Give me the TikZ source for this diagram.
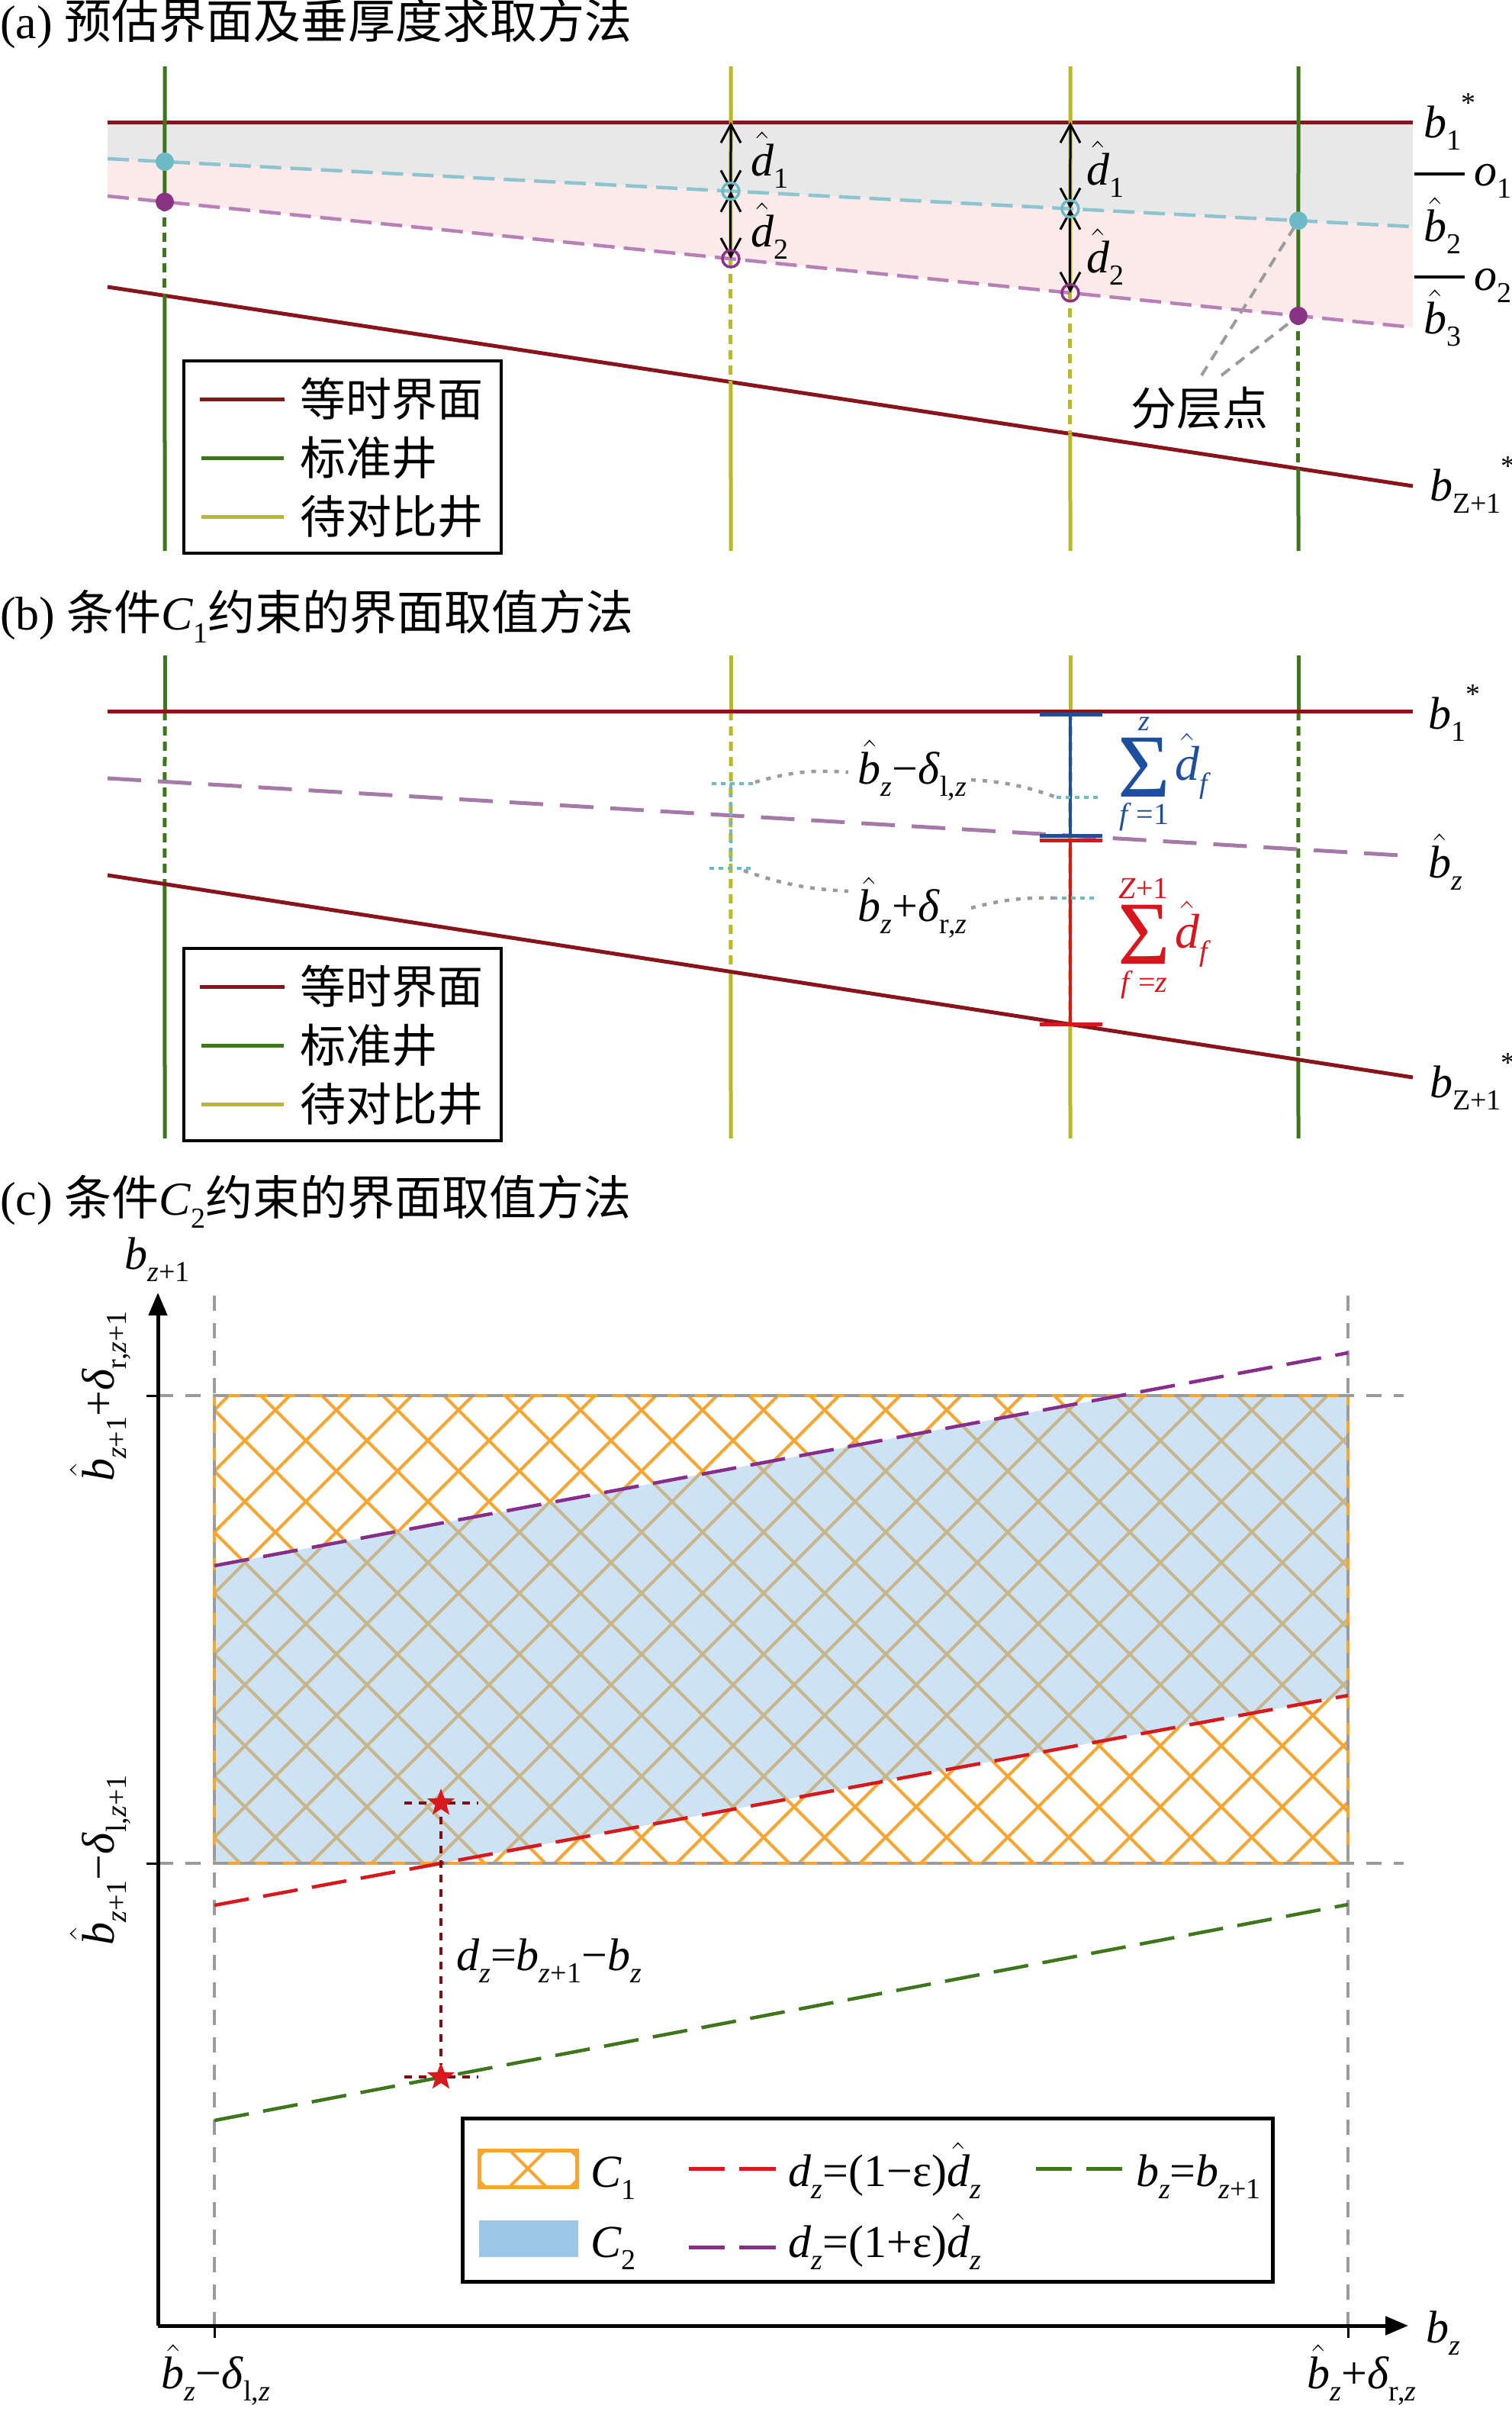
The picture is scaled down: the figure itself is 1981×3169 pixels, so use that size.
\RequirePackage{fix-cm}
\documentclass[tikz,border=0pt]{standalone}
\usepackage{amsmath}
\usepackage{fontspec}
\setmainfont{Liberation Serif}
\newfontfamily\cjk{Noto Sans CJK SC}
\usetikzlibrary{arrows.meta,shapes.geometric}
\definecolor{bred}{RGB}{138,20,28}
\definecolor{wgreen}{RGB}{62,118,28}
\definecolor{wyel}{RGB}{185,185,40}
\definecolor{cyanln}{RGB}{140,196,208}
\definecolor{cyandotc}{RGB}{108,186,198}
\definecolor{purln}{RGB}{183,128,182}
\definecolor{purdotc}{RGB}{138,50,132}
\definecolor{bandgrey}{RGB}{232,232,232}
\definecolor{bandpink}{RGB}{252,233,233}
\definecolor{ptgrey}{RGB}{155,155,155}
\definecolor{sumblue}{RGB}{30,78,158}
\definecolor{sumred}{RGB}{215,22,30}
\definecolor{hatchor}{RGB}{245,165,50}
\definecolor{ctwoblue}{RGB}{155,198,230}
\definecolor{pline}{RGB}{135,45,140}
\definecolor{rline}{RGB}{215,25,30}
\definecolor{gline}{RGB}{62,118,28}
\definecolor{dkred}{RGB}{125,15,20}
\definecolor{bzpur}{RGB}{166,122,168}
\newcommand\sbs[1]{\raisebox{-0.27em}{\fontsize{38}{38}\selectfont #1}}
\newcommand\sps[1]{\raisebox{0.55em}{\fontsize{38}{38}\selectfont #1}}
\newcommand\hatit[1]{\ensuremath{\hat{\text{\itshape #1}}}}
\tikzset{
 lbl/.style={font=\fontsize{60}{72}\selectfont, inner sep=0pt},
 sumsym/.style={font=\fontsize{118}{118}\selectfont, inner sep=0pt, anchor=base},
 sumlim/.style={font=\fontsize{40}{40}\selectfont, inner sep=0pt, anchor=base},
 horline/.style={bred, line width=5pt},
 gwell/.style={wgreen, line width=5pt},
 ywell/.style={wyel, line width=5pt},
 vdash/.style={dash pattern=on 12pt off 8pt},
 cyandash/.style={cyanln, line width=4.5pt, dash pattern=on 28pt off 12pt},
 purdash/.style={purln, line width=4.5pt, dash pattern=on 28pt off 12pt},
 dimarrow/.style={black, line width=3pt, {Straight Barb[length=24pt,width=26pt]}-{Straight Barb[length=24pt,width=26pt]}},
 legbox/.style={black, line width=4.5pt},
 greydash/.style={ptgrey, line width=4pt, dash pattern=on 14pt off 10pt},
 greydot/.style={ptgrey, line width=4.5pt, dash pattern=on 6pt off 9pt},
 cyantick/.style={cyandotc, line width=4pt, dash pattern=on 6pt off 6pt},
 axisgrey/.style={ptgrey, line width=4pt, dash pattern=on 20pt off 16pt},
 hatchline/.style={hatchor, line width=4pt},
 longdash/.style={line width=4.5pt, dash pattern=on 46pt off 19pt},
 starcon/.style={dkred, line width=4pt, dash pattern=on 10pt off 9pt},
 starmark/.style={star, star points=5, star point ratio=2.4, fill=rline, draw=none, minimum size=38pt, inner sep=0pt},
 axisline/.style={black, line width=5pt, -{Triangle[length=30pt,width=24pt]}},
}
\begin{document}
\begin{tikzpicture}[x=1pt,y=-1pt]
\useasboundingbox (0,0) rectangle (1981,3169);

% ================= panel (a) =================
\node[lbl, anchor=west, font=\fontsize{62}{72}\selectfont] (ta) at (0,31) {(a) {\cjk 预估界面及垂厚度求取方法}};
\coordinate (a1L) at (141,160); \coordinate (a1R) at (1852,160);
\coordinate (a2L) at (141,208); \coordinate (a2R) at (1852,297);
\coordinate (a3L) at (141,257); \coordinate (a3R) at (1852,429);
\coordinate (aZL) at (141,376); \coordinate (aZR) at (1852,637);
\fill[bandgrey] (a1L) -- (a1R) -- (a2R) -- (a2L) -- cycle;
\fill[bandpink] (a2L) -- (a2R) -- (a3R) -- (a3L) -- cycle;
\foreach \w/\x in {1/216,2/958,3/1403,4/1702}{
  \coordinate (wa\w-t) at (\x,87);
  \coordinate (wa\w-b) at (\x,722);
  \coordinate (wa\w-p1) at (\x,160);
  \coordinate (wa\w-p2) at (intersection of a2L--a2R and wa\w-t--wa\w-b);
  \coordinate (wa\w-p3) at (intersection of a3L--a3R and wa\w-t--wa\w-b);
  \coordinate (wa\w-pz) at (intersection of aZL--aZR and wa\w-t--wa\w-b);
}
\draw[horline] (a1L) -- (a1R);
\draw[horline] (aZL) -- (aZR);
\foreach \w/\s in {1/gwell,2/ywell,3/ywell,4/gwell}{
  \draw[\s] (wa\w-t) -- (wa\w-p3);
  \draw[\s, vdash] (wa\w-p3) -- (wa\w-pz);
  \draw[\s] (wa\w-pz) -- (wa\w-b);
}
\draw[cyandash] (a2L) -- (a2R);
\draw[purdash] (a3L) -- (a3R);
% layer points
\draw[greydash] (1575,492) -- (wa4-p2);
\draw[greydash] (1601,492) -- (wa4-p3);
\fill[cyandotc] (wa1-p2) circle[radius=12];
\fill[purdotc] (wa1-p3) circle[radius=12];
\fill[cyandotc] (wa4-p2) circle[radius=12];
\fill[purdotc] (wa4-p3) circle[radius=12];
\foreach \w in {2,3}{
  \draw[dimarrow] (wa\w-p1) -- (wa\w-p2);
  \draw[dimarrow] (wa\w-p2) -- (wa\w-p3);
  \draw[cyandotc, line width=3.5pt] (wa\w-p2) circle[radius=11];
  \draw[purdotc, line width=3.5pt] (wa\w-p3) circle[radius=11];
}
\node[lbl, anchor=base west] (d1a) at (984,230) {\hatit{d}\sbs{1}};
\node[lbl, anchor=base west] (d2a) at (984,323) {\hatit{d}\sbs{2}};
\node[lbl, anchor=base west] (d1b) at (1424,242) {\hatit{d}\sbs{1}};
\node[lbl, anchor=base west] (d2b) at (1424,357) {\hatit{d}\sbs{2}};
\node[lbl, anchor=base west] (lb1) at (1866,180) {\textit{b}\sbs{1}\sps{*}};
\node[lbl, anchor=base west] (lb2) at (1866,316) {\hatit{b}\sbs{2}};
\node[lbl, anchor=base west] (lb3) at (1866,437) {\hatit{b}\sbs{3}};
\node[lbl, anchor=base west] (lbz) at (1874,656) {\textit{b}\sbs{Z+1}\sps{*}};
\coordinate (o1a) at (1854,228); \coordinate (o1b) at (1920,228);
\coordinate (o2a) at (1854,363); \coordinate (o2b) at (1920,363);
\draw[black, line width=4pt] (o1a) -- (o1b);
\draw[black, line width=4pt] (o2a) -- (o2b);
\node[lbl, anchor=base west] (lo1) at (1932,243) {\textit{o}\sbs{1}};
\node[lbl, anchor=base west] (lo2) at (1932,380) {\textit{o}\sbs{2}};
\node[lbl] (fcd) at (1572,535) {\cjk 分层点};
% legends (a) and (b)
\foreach \dy/\nm in {0/la,770/lb}{
\begin{scope}[yshift=-\dy pt]
\draw[legbox, fill=white] (241,473) rectangle (657,725);
\draw[bred, line width=5pt] (262,523) -- (373,523);
\draw[wgreen, line width=5pt] (264,600) -- (372,600);
\draw[wyel, line width=5pt] (264,677) -- (372,677);
\node[lbl, anchor=west] (\nm1) at (393,523) {\cjk 等时界面};
\node[lbl, anchor=west] (\nm2) at (393,600) {\cjk 标准井};
\node[lbl, anchor=west] (\nm3) at (393,677) {\cjk 待对比井};
\end{scope}
}

% ================= panel (b) =================
\node[lbl, anchor=west, font=\fontsize{62}{72}\selectfont] (tb) at (0,808) {(b) {\cjk 条件}\textit{C}\sbs{1}{\cjk 约束的界面取值方法}};
\coordinate (b1L) at (141,932); \coordinate (b1R) at (1852,932);
\coordinate (bzL) at (141,1020); \coordinate (bzR) at (1852,1122);
\coordinate (bZL) at (141,1147); \coordinate (bZR) at (1852,1412);
\foreach \w/\x in {1/216,2/958,3/1403,4/1702}{
  \coordinate (wb\w-t) at (\x,859);
  \coordinate (wb\w-b) at (\x,1492);
  \coordinate (wb\w-p1) at (\x,932);
  \coordinate (wb\w-pb) at (intersection of bzL--bzR and wb\w-t--wb\w-b);
  \coordinate (wb\w-pz) at (intersection of bZL--bZR and wb\w-t--wb\w-b);
}
\foreach \w/\s in {1/gwell,2/ywell,3/ywell,4/gwell}{
  \draw[\s] (wb\w-t) -- (wb\w-p1);
  \draw[\s, vdash] (wb\w-p1) -- (wb\w-pz);
  \draw[\s] (wb\w-pz) -- (wb\w-b);
}
\draw[horline] (b1L) -- (b1R);
\draw[horline] (bZL) -- (bZR);
\draw[bzpur, line width=5pt, dash pattern=on 44pt off 22pt] (bzL) -- (bzR);
% brackets at well 3
\coordinate (bl1) at (1403,936); \coordinate (bl2) at (1403,1095);
\coordinate (rl1) at (1403,1101); \coordinate (rl2) at (1403,1342);
\draw[sumblue, line width=3.5pt] (bl1) -- (bl2);
\draw[sumred, line width=3.5pt] (rl1) -- (rl2);
\draw[sumblue, line width=5pt] (1363,936) -- (1445,936);
\draw[sumblue, line width=5pt] (1363,1095) -- (1445,1095);
\draw[sumred, line width=5pt] (1363,1101) -- (1445,1101);
\draw[sumred, line width=5pt] (1363,1342) -- (1445,1342);
% cyan ticks at well 2 and 3
\coordinate (c2u) at (958,1027); \coordinate (c2l) at (958,1138);
\draw[cyantick] (933,1027) -- (988,1027);
\draw[cyantick] (930,1138) -- (985,1138);
\draw[cyantick] (c2u) -- (c2l);
\draw[cyantick] (1385,1045) -- (1440,1045);
\draw[cyantick] (1380,1177) -- (1435,1177);
\node[lbl] (lbm) at (1196,1010) {\hatit{b}\sbs{\textit{z}}−\textit{δ}\sbs{l,\textit{z}}};
\node[lbl] (lbp) at (1196,1190) {\hatit{b}\sbs{\textit{z}}+\textit{δ}\sbs{r,\textit{z}}};
\draw[greydot] (990,1025) to[bend left=10] (1112,1012);
\draw[greydot] (1273,1022) to[bend left=8] (1385,1045);
\draw[greydot] (975,1141) to[bend right=8] (1112,1168);
\draw[greydot] (1273,1190) to[bend left=8] (1385,1177);
% sums
\node[sumsym, sumblue] (sumb) at (1500,1044) {Σ};
\node[sumlim, sumblue, font=\fontsize{38}{38}\selectfont\itshape] (sumbt) at (1500,957) {z};
\node[sumlim, sumblue] (sumbb) at (1500,1080) {\textit{f}\,=1};
\node[lbl, sumblue, anchor=base west, font=\fontsize{64}{70}\selectfont] (sumbd) at (1540,1022) {\hatit{d}\sbs{\textit{f}}};
\node[sumsym, sumred] (sumr) at (1500,1263) {Σ};
\node[sumlim, sumred] (sumrt) at (1499,1177) {\textit{Z}+1};
\node[sumlim, sumred] (sumrb) at (1500,1300) {\textit{f}\,=\textit{z}};
\node[lbl, sumred, anchor=base west, font=\fontsize{64}{70}\selectfont] (sumrd) at (1540,1242) {\hatit{d}\sbs{\textit{f}}};
\node[lbl, anchor=base west] (lbb1) at (1872,955) {\textit{b}\sbs{1}\sps{*}};
\node[lbl, anchor=base west] (lbbz) at (1872,1150) {\hatit{b}\sbs{\textit{z}}};
\node[lbl, anchor=base west] (lbbZ) at (1874,1438) {\textit{b}\sbs{Z+1}\sps{*}};

% ================= panel (c) =================
\node[lbl, anchor=west, font=\fontsize{62}{72}\selectfont] (tc) at (0,1575) {(c) {\cjk 条件}\textit{C}\sbs{2}{\cjk 约束的界面取值方法}};
\coordinate (rTL) at (281,1829); \coordinate (rBR) at (1767,2442);
\begin{scope}
\clip (rTL) rectangle (rBR);
\foreach \n in {-19,...,8}{
  \draw[hatchline] (281,{281+1567+80*\n}) -- (1767,{1767+1567+80*\n});
}
\foreach \n in {-1,...,26}{
  \draw[hatchline] (281,{2129+80*\n-281}) -- (1767,{2129+80*\n-1767});
}
\end{scope}
\fill[ctwoblue, fill opacity=0.5] (281,2052) -- (1469,1829) -- (1767,1829) -- (1767,2222) -- (578,2442) -- (281,2442) -- cycle;
\draw[hatchor, line width=4.5pt] (rTL) rectangle (rBR);
% axes
\coordinate (orig) at (207,3048);
\coordinate (ytip) at (207,1694);
\coordinate (xtip) at (1846,3048);
\draw[axisgrey] (281,1698) -- (281,3048);
\draw[axisgrey] (1767,1698) -- (1767,3048);
\draw[axisgrey] (207,1829) -- (1840,1829);
\draw[axisgrey] (207,2442) -- (1840,2442);
\draw[black, line width=3pt] (281,3048) -- (281,3064);
\draw[black, line width=3pt] (1767,3048) -- (1767,3064);
\draw[black, line width=3pt] (192,1829) -- (207,1829);
\draw[black, line width=3pt] (192,2442) -- (207,2442);
\draw[axisline] (orig) -- (ytip);
\draw[axisline] (orig) -- (xtip);
% constraint lines
\coordinate (pL) at (281,2052); \coordinate (pR) at (1767,1773);
\coordinate (rL) at (281,2497); \coordinate (rR) at (1767,2222);
\coordinate (gL) at (281,2779); \coordinate (gR) at (1767,2496);
\draw[pline, longdash] (pL) -- (pR);
\draw[rline, longdash] (rL) -- (rR);
\draw[gline, longdash] (gL) -- (gR);
% stars
\coordinate (s1h1) at (530,2363); \coordinate (s1h2) at (627,2363);
\coordinate (s2h1) at (530,2722); \coordinate (s2h2) at (627,2722);
\draw[starcon] (s1h1) -- (s1h2);
\draw[starcon] (s2h1) -- (s2h2);
\node[starmark] (st1) at (578,2363) {};
\node[starmark] (st2) at (578,2722) {};
\draw[starcon] (578,2381) -- (578,2706);
\node[lbl, anchor=base west] (ldz) at (598,2582) {\textit{d}\sbs{\textit{z}}=\textit{b}\sbs{\textit{z}+1}−\textit{b}\sbs{\textit{z}}};
% axis labels
\node[lbl] (lyax) at (206,1651) {\textit{b}\sbs{\textit{z}+1}};
\node[lbl] (lxax) at (1892,3058) {\textit{b}\sbs{\textit{z}}};
\node[lbl] (lx1) at (283,3113) {\hatit{b}\sbs{\textit{z}}−\textit{δ}\sbs{l,\textit{z}}};
\node[lbl] (lx2) at (1785,3113) {\hatit{b}\sbs{\textit{z}}+\textit{δ}\sbs{r,\textit{z}}};
\node[lbl, rotate=90] (ly1) at (132,1830) {\hatit{b}\sbs{\textit{z}+1}+\textit{δ}\sbs{r,\textit{z}+1}};
\node[lbl, rotate=90] (ly2) at (132,2438) {\hatit{b}\sbs{\textit{z}+1}−\textit{δ}\sbs{l,\textit{z}+1}};
% legend (c)
\draw[legbox, line width=5pt, fill=white] (606,2776) rectangle (1668,2990);
\begin{scope}
\clip (628,2818) rectangle (756,2866);
\foreach \n in {-2,...,2}{
  \draw[hatchline] (600,{2150+80*\n+600}) -- (790,{2150+80*\n+790});
  \draw[hatchline] (600,{3534+80*\n-600}) -- (790,{3534+80*\n-790});
}
\end{scope}
\draw[hatchor, line width=5pt] (628,2818) rectangle (756,2866);
\fill[ctwoblue] (628,2910) rectangle (758,2958);
\node[lbl, anchor=base west] (lc1) at (774,2866) {\textit{C}\sbs{1}};
\node[lbl, anchor=base west] (lc2) at (774,2958) {\textit{C}\sbs{2}};
\draw[rline, line width=5pt] (903,2842) -- (950,2842);
\draw[rline, line width=5pt] (969,2842) -- (1017,2842);
\draw[pline, line width=5pt] (903,2945) -- (950,2945);
\draw[pline, line width=5pt] (969,2945) -- (1017,2945);
\draw[gline, line width=5pt] (1358,2842) -- (1405,2842);
\draw[gline, line width=5pt] (1424,2842) -- (1471,2842);
\node[lbl, anchor=base] (lr) at (1160,2865) {\textit{d}\sbs{\textit{z}}=(1−ε)\hatit{d}\sbs{\textit{z}}};
\node[lbl, anchor=base] (lp) at (1160,2958) {\textit{d}\sbs{\textit{z}}=(1+ε)\hatit{d}\sbs{\textit{z}}};
\node[lbl, anchor=base] (lg) at (1571,2865) {\textit{b}\sbs{\textit{z}}=\textit{b}\sbs{\textit{z}+1}};
\end{tikzpicture}
\end{document}
